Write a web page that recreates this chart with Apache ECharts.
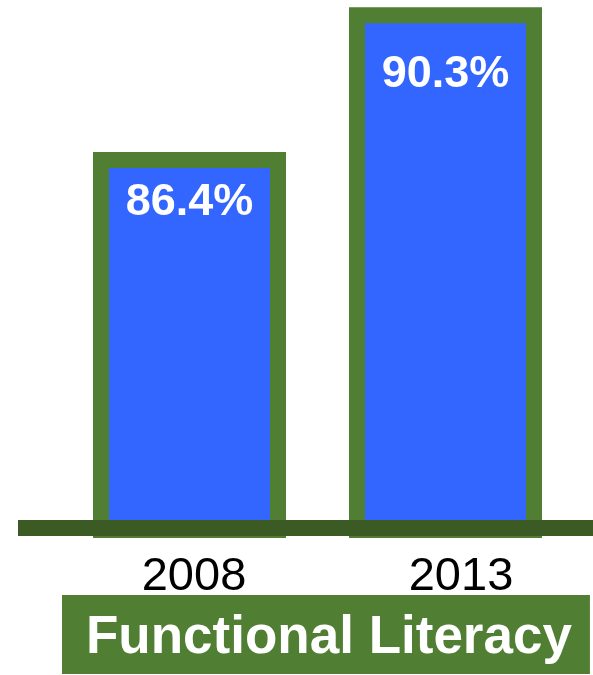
<!DOCTYPE html>
<html>
<head>
<meta charset="utf-8">
<script src="https://cdn.jsdelivr.net/npm/echarts@6/dist/echarts.min.js"></script>
<style>
html,body{margin:0;padding:0;background:#ffffff;}
#chart{width:593px;height:675px;}
</style>
</head>
<body>
<div id="chart"></div>
<script>
const categories = ['2008', '2013'];
const literacyValues = [86.4, 90.3];
const chartTitle = 'Functional Literacy';

const FONT = '"Liberation Sans", Arial, sans-serif';
const labelDistances = [28, 45];
const categoryLabelShift = [9, 31];

const chart = echarts.init(document.getElementById('chart'), null, {renderer: 'canvas'});
chart.setOption({
  animation: false,
  backgroundColor: '#ffffff',
  title: {
    text: chartTitle,
    left: 62,
    top: 595,
    backgroundColor: '#507e32',
    padding: [17, 18, 9, 24],
    textStyle: {color: '#ffffff', fontSize: 53, fontWeight: 'bold', fontFamily: FONT}
  },
  grid: [
    {left: 61.5, right: 19.5, top: 7.3, bottom: 145},
    {left: 18, right: 0, top: 7.3, bottom: 147.5}
  ],
  xAxis: [
    {
      type: 'category', gridIndex: 0,
      data: categories.map((c, i) => ({value: c, textStyle: {padding: [0, 0, 0, categoryLabelShift[i]]}})),
      axisLine: {show: false}, axisTick: {show: false},
      axisLabel: {color: '#000000', fontSize: 47, fontFamily: FONT, margin: 24}
    },
    {
      type: 'value', gridIndex: 1, min: 0, max: 1, z: 10,
      axisLine: {show: true, lineStyle: {color: '#3b5a24', width: 16, cap: 'butt'}},
      axisTick: {show: false}, axisLabel: {show: false}, splitLine: {show: false}
    }
  ],
  yAxis: [
    {type: 'value', gridIndex: 0, min: 76.2, max: 90.3, show: false, splitLine: {show: false}},
    {type: 'value', gridIndex: 1, min: 0, max: 1, show: false, splitLine: {show: false}}
  ],
  series: [{
    type: 'bar',
    xAxisIndex: 0, yAxisIndex: 0,
    barWidth: 193,
    data: literacyValues.map((v, i) => ({value: v, label: {distance: labelDistances[i]}})),
    itemStyle: {color: '#3366ff', borderColor: '#507e32', borderWidth: 16},
    label: {
      show: true, position: 'insideTop',
      formatter: p => p.value.toFixed(1) + '%',
      color: '#ffffff', fontSize: 45, fontWeight: 'bold', fontFamily: FONT
    }
  }]
});
</script>
</body>
</html>
